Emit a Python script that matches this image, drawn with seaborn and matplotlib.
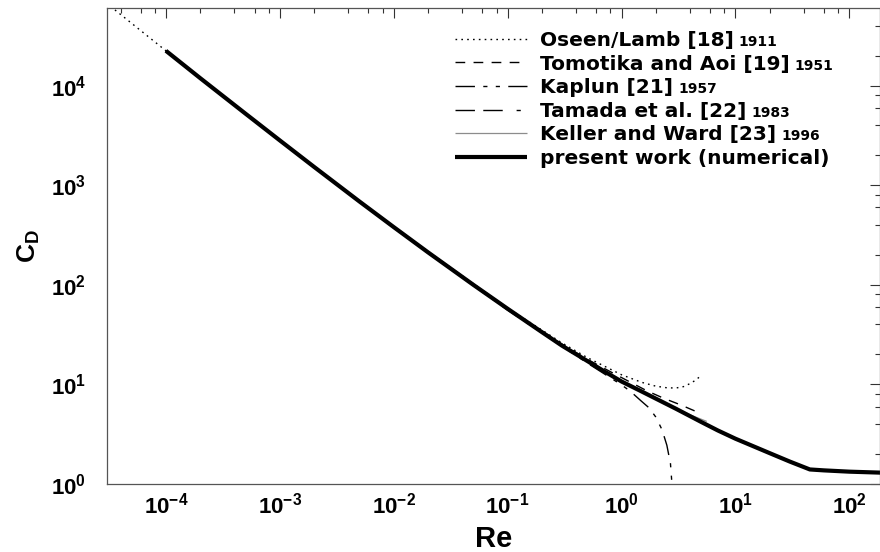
import matplotlib
matplotlib.use("Agg")
import matplotlib.pyplot as plt
import seaborn as sns
from matplotlib.ticker import LogLocator, NullFormatter, FixedLocator
from matplotlib.font_manager import FontProperties

# ---------------- data ----------------
re_oseen = [2.5e-5, 1e-4, 1e-3, 1e-2, 0.1, 0.3, 0.5, 1.0, 1.5, 2.0, 2.5, 3.0, 3.5, 4.0, 4.4, 4.8]
cd_oseen = [79800, 22400, 2820, 380, 58.4, 26.1, 18.6, 12.5, 10.5, 9.6, 9.25, 9.2, 9.5, 10.2, 10.9, 11.8]

re_tomotika = [1e-4, 1e-3, 1e-2, 0.1, 0.3, 0.5, 0.8, 1.2, 1.68, 2.35, 3.34, 4.77]
cd_tomotika = [22300, 2810, 378, 57.8, 25.4, 17.9, 13.4, 10.5, 8.6, 7.25, 6.2, 5.2]

re_kaplun = [1e-4, 1e-3, 1e-2, 0.1, 0.5, 1.0, 1.2, 1.47, 1.75, 2.0, 2.27, 2.5, 2.69, 2.8]
cd_kaplun = [22260, 2790, 373, 55.7, 16.4, 9.9, 8.5, 6.9, 5.8, 4.7, 3.5, 2.45, 1.6, 0.85]

re_tamada = [1e-4, 1e-3, 1e-2, 0.1, 0.5, 0.8, 1.0, 1.2]
cd_tamada = [22350, 2815, 378, 57.0, 17.0, 12.9, 10.5, 9.5]

re_keller = [1e-4, 1e-3, 1e-2, 0.1, 0.5, 1.0, 2.0, 3.0, 4.0, 5.6]
cd_keller = [22400, 2821, 380, 57.5, 17.2, 10.7, 7.3, 5.8, 4.95, 4.25]

re_present = [1e-4, 2e-4, 5e-4, 1e-3, 2e-3, 5e-3, 1e-2, 2e-2, 5e-2, 0.1, 0.2, 0.3, 0.5, 0.7,
              1.0, 1.5, 2.0, 3.0, 5.0, 7.0, 10, 20, 30, 45, 60, 100, 190]
cd_present = [22400, 11900, 5230, 2820, 1528, 687, 380, 212, 100, 57.5, 33.5, 24.5, 17.2, 13.6,
              10.7, 8.5, 7.2, 5.7, 4.2, 3.45, 2.85, 2.04, 1.68, 1.40, 1.37, 1.33, 1.30]

labels = ["Oseen/Lamb [18]", "Tomotika and Aoi [19]", "Kaplun [21]",
          "Tamada et al. [22]", "Keller and Ward [23]", "present work (numerical)"]
years = ["1911", "1951", "1957", "1983", "1996", ""]

xtick_vals = [1e-4, 1e-3, 1e-2, 1e-1, 1e0, 1e1, 1e2]
xtick_labels = [r"$\mathrm{10^{-4}}$", r"$\mathrm{10^{-3}}$", r"$\mathrm{10^{-2}}$",
                r"$\mathrm{10^{-1}}$", r"$\mathrm{10^{0}}$", r"$\mathrm{10^{1}}$", r"$\mathrm{10^{2}}$"]
ytick_vals = [1e0, 1e1, 1e2, 1e3, 1e4]
ytick_labels = [r"$\mathrm{10^{0}}$", r"$\mathrm{10^{1}}$", r"$\mathrm{10^{2}}$",
                r"$\mathrm{10^{3}}$", r"$\mathrm{10^{4}}$"]

# ---------------- style ----------------
sns.set_theme(style="white")
plt.rcParams["font.family"] = ["Liberation Sans", "DejaVu Sans"]
plt.rcParams["font.weight"] = "bold"
plt.rcParams["mathtext.fontset"] = "custom"
plt.rcParams["mathtext.rm"] = "Liberation Sans:bold"
plt.rcParams["mathtext.it"] = "Liberation Sans:bold"
plt.rcParams["mathtext.bf"] = "Liberation Sans:bold"
plt.rcParams["mathtext.sf"] = "Liberation Sans:bold"
for k in ["text.color", "axes.labelcolor", "xtick.color", "ytick.color"]:
    plt.rcParams[k] = "black"

W, H = 880, 552
fig = plt.figure(figsize=(W / 100, H / 100), dpi=100)
ax = fig.add_axes([107 / W, 1 - 484 / H, (879.5 - 107) / W, (484 - 8.3) / H])
ax.set_xscale("log")
ax.set_yscale("log")

series = [
    (re_oseen, cd_oseen, dict(color="black", lw=1.0, ls=(0, (1.2, 3.0)), z=3)),
    (re_tomotika, cd_tomotika, dict(color="black", lw=1.0, ls=(0, (7, 6)), z=3)),
    (re_kaplun, cd_kaplun, dict(color="black", lw=1.0, ls=(0, (14, 6, 3, 6, 3, 6)), z=3)),
    (re_tamada, cd_tamada, dict(color="black", lw=1.0, ls=(0, (14, 6, 14, 10, 3, 10)), z=3)),
    (re_keller, cd_keller, dict(color="#8c8c8c", lw=0.9, ls="-", z=1.5)),
    (re_present, cd_present, dict(color="black", lw=3.0, ls="-", z=2)),
]

handles = []
for xs, ys, st in series:
    sns.lineplot(x=xs, y=ys, ax=ax, color=st["color"], linewidth=st["lw"],
                 sort=False, estimator=None, legend=False)
    ln = ax.lines[-1]
    ln.set_linestyle(st["ls"])
    ln.set_zorder(st["z"])
    ln.set_solid_capstyle("butt")
    ln.set_dash_capstyle("butt")
    handles.append(ln)

ax.set_xlim(3.04e-5, 184)
ax.set_ylim(1, 59800)

ax.xaxis.set_major_locator(FixedLocator(xtick_vals))
ax.set_xticklabels(xtick_labels)
ax.yaxis.set_major_locator(FixedLocator(ytick_vals))
ax.set_yticklabels(ytick_labels)
ax.xaxis.set_minor_locator(LogLocator(base=10, subs=[2, 4, 6, 8], numticks=100))
ax.yaxis.set_minor_locator(LogLocator(base=10, subs=[2, 4, 6, 8], numticks=100))
ax.xaxis.set_minor_formatter(NullFormatter())
ax.yaxis.set_minor_formatter(NullFormatter())

ax.tick_params(which="both", direction="in", top=True, right=True, color="#333333", width=0.8)
ax.tick_params(which="major", length=7.5)
ax.tick_params(which="minor", length=3.5)
ax.tick_params(axis="x", which="major", labelsize=16, pad=6, labelcolor="black")
ax.tick_params(axis="y", which="major", labelsize=16, pad=15, labelcolor="black")
for sp in ax.spines.values():
    sp.set_color("#555555")
    sp.set_linewidth(0.9)

ax.set_xlabel("Re", fontsize=21, fontweight="bold", labelpad=5, color="black")
ax.set_ylabel(r"$\mathrm{C_D}$", fontsize=19, labelpad=6, color="black")

leg_fs = 14.5
leg_px = leg_fs * 100 / 72
leg = ax.legend(handles, labels, loc="upper left",
                bbox_to_anchor=(455 / W, 1 - 31 / H), bbox_transform=fig.transFigure,
                frameon=False, handlelength=72 / leg_px, handletextpad=13 / leg_px,
                labelspacing=0.225, borderpad=0, borderaxespad=0,
                prop=FontProperties(family="DejaVu Sans", weight="bold", size=leg_fs))
for t in leg.get_texts():
    t.set_color("black")

fig.canvas.draw()
renderer = fig.canvas.get_renderer()
for t, yr in zip(leg.get_texts(), years):
    if not yr:
        continue
    bb = t.get_window_extent(renderer)
    fp = t.get_fontproperties()
    _, _, d = renderer.get_text_width_height_descent(t.get_text(), fp, ismath=False)
    _, _, dlp = renderer.get_text_width_height_descent("lp", fp, ismath=False)
    base = bb.y0 + max(d, dlp)
    fig.text((bb.x1 + 5) / W, base / H, yr, fontsize=10, fontweight="bold",
             family="DejaVu Sans", ha="left", va="baseline", color="black")

fig.savefig("out.png", dpi=100)
